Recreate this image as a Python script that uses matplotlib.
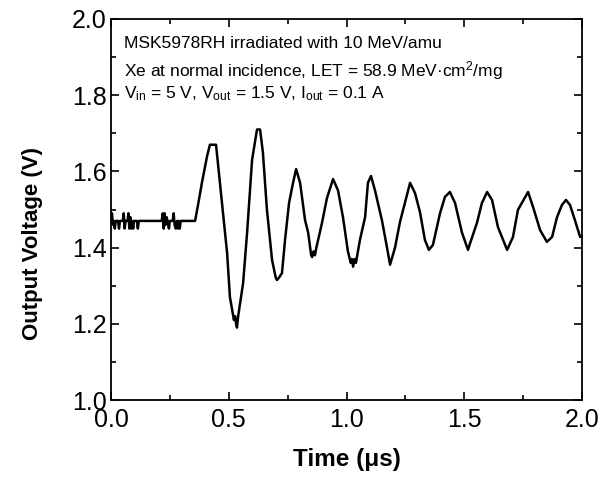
import matplotlib
matplotlib.use("Agg")
import matplotlib.pyplot as plt
from matplotlib.ticker import MultipleLocator

plt.rcParams['font.family'] = ['Liberation Sans', 'DejaVu Sans']
plt.rcParams['mathtext.fontset'] = 'custom'
plt.rcParams['mathtext.rm'] = 'Liberation Sans'
plt.rcParams['mathtext.it'] = 'Liberation Sans:italic'
plt.rcParams['mathtext.bf'] = 'Liberation Sans:bold'

# Waveform (time in microseconds, output voltage in volts)
time_us = [
    0.000, 0.004, 0.008, 0.012, 0.016, 0.020, 0.030, 0.034, 0.038, 0.050,
    0.054, 0.058, 0.062, 0.070, 0.074, 0.078, 0.082, 0.086, 0.090, 0.094,
    0.098, 0.110, 0.114, 0.118, 0.215, 0.220, 0.224, 0.228, 0.232, 0.236,
    0.240, 0.246, 0.250, 0.262, 0.266, 0.270, 0.275, 0.280, 0.284, 0.288,
    0.292, 0.296, 0.357, 0.369, 0.386, 0.408, 0.420, 0.446, 0.493, 0.505,
    0.522, 0.527, 0.531, 0.535, 0.540, 0.561, 0.578, 0.599, 0.620, 0.633,
    0.645, 0.662, 0.684, 0.700, 0.705, 0.712, 0.726, 0.739, 0.756, 0.773,
    0.786, 0.803, 0.824, 0.837, 0.850, 0.854, 0.860, 0.866, 0.872, 0.896,
    0.917, 0.943, 0.964, 0.985, 1.006, 1.018, 1.023, 1.028, 1.034, 1.040,
    1.057, 1.079, 1.091, 1.104, 1.121, 1.151, 1.172, 1.185, 1.206, 1.227,
    1.248, 1.270, 1.291, 1.312, 1.333, 1.350, 1.367, 1.397, 1.418, 1.439,
    1.461, 1.490, 1.516, 1.524, 1.554, 1.575, 1.597, 1.618, 1.643, 1.682,
    1.707, 1.728, 1.771, 1.792, 1.822, 1.851, 1.873, 1.894, 1.915, 1.932,
    1.949, 1.970, 1.992, 2.000,
]
voltage_v = [
    1.47, 1.49, 1.46, 1.47, 1.45, 1.47, 1.47, 1.45, 1.47, 1.47,
    1.49, 1.45, 1.47, 1.47, 1.49, 1.45, 1.48, 1.45, 1.47, 1.45,
    1.47, 1.47, 1.45, 1.47, 1.47, 1.49, 1.45, 1.49, 1.46, 1.48,
    1.47, 1.45, 1.47, 1.47, 1.49, 1.46, 1.45, 1.47, 1.45, 1.47,
    1.45, 1.47, 1.47, 1.51, 1.57, 1.64, 1.67, 1.67, 1.386, 1.27,
    1.21, 1.22, 1.20, 1.19, 1.22, 1.307, 1.44, 1.63, 1.71, 1.71,
    1.65, 1.50, 1.367, 1.32, 1.315, 1.32, 1.333, 1.42, 1.517, 1.57,
    1.606, 1.57, 1.472, 1.44, 1.38, 1.375, 1.39, 1.38, 1.40, 1.465,
    1.53, 1.58, 1.55, 1.48, 1.39, 1.36, 1.37, 1.35, 1.37, 1.36,
    1.42, 1.48, 1.57, 1.588, 1.55, 1.47, 1.40, 1.355, 1.40, 1.467,
    1.517, 1.57, 1.543, 1.493, 1.42, 1.394, 1.407, 1.49, 1.533, 1.546,
    1.517, 1.44, 1.394, 1.41, 1.465, 1.517, 1.546, 1.525, 1.454, 1.394,
    1.428, 1.499, 1.546, 1.507, 1.446, 1.415, 1.428, 1.48, 1.512, 1.525,
    1.512, 1.472, 1.428, 1.43,
]

x_ticks = [0.0, 0.5, 1.0, 1.5, 2.0]
y_ticks = [1.0, 1.2, 1.4, 1.6, 1.8, 2.0]

annotation_lines = [
    "MSK5978RH irradiated with 10 MeV/amu",
    "Xe at normal incidence, LET = 58.9 MeV\u00b7cm$^{2}$/mg",
    "V$_{\\rm in}$ = 5 V, V$_{\\rm out}$ = 1.5 V, I$_{\\rm out}$ = 0.1 A",
]

fig = plt.figure(figsize=(6.00, 4.79), dpi=100)
ax = fig.add_axes([111 / 600, 1 - 400 / 479, 471 / 600, 381 / 479])

ax.plot(time_us, voltage_v, color='black', linewidth=1.8)

ax.set_xlim(0.0, 2.0)
ax.set_ylim(1.0, 2.0)
ax.set_xticks(x_ticks)
ax.set_yticks(y_ticks)
ax.set_xticklabels([f"{v:.1f}" for v in x_ticks])
ax.set_yticklabels([f"{v:.1f}" for v in y_ticks])
ax.xaxis.set_minor_locator(MultipleLocator(0.25))
ax.yaxis.set_minor_locator(MultipleLocator(0.1))
ax.tick_params(which='both', direction='in', top=True, right=True, width=1.2,
               labelsize=18)
ax.tick_params(axis='x', which='both', pad=6)
ax.tick_params(axis='y', which='both', pad=3)
ax.tick_params(which='major', length=6)
ax.tick_params(which='minor', length=3.5)
for s in ax.spines.values():
    s.set_linewidth(1.3)

ax.set_xlabel("Time (\u03bcs)", fontsize=17.5, fontweight='bold')
ax.set_ylabel("Output Voltage (V)", fontsize=16, fontweight='bold')
ax.xaxis.set_label_coords(0.5, -0.125)
ax.yaxis.set_label_coords(-0.145, 0.41)

ys = [0.937, 0.866, 0.805]
for line, yy in zip(annotation_lines, ys):
    ax.text(0.027, yy, line, transform=ax.transAxes, fontsize=12.5,
            ha='left', va='center')

fig.savefig("out.png", dpi=100)
